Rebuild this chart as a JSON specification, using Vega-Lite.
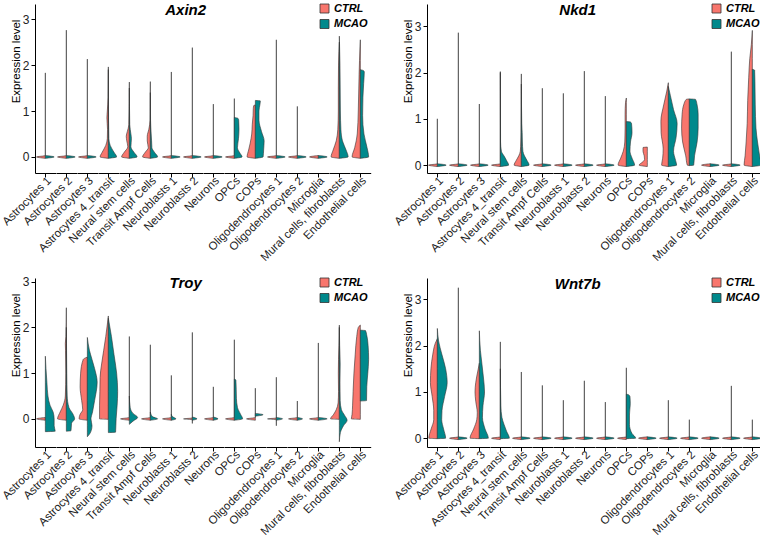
{
"$schema":"https://vega.github.io/schema/vega-lite/v6.json",
"padding":{"left":0,"top":3,"right":0,"bottom":0},
"background":"white",
"data":{"values":[
{"g":"Axin2","c":"Astrocytes 1","k":"CTRL","y":[-0.03,0,0.03,1.83],"w":[0,0.85,0,0]},
{"g":"Axin2","c":"Astrocytes 1","k":"MCAO","y":[-0.03,0,0.03],"w":[0,0.85,0]},
{"g":"Axin2","c":"Astrocytes 2","k":"CTRL","y":[-0.03,0,0.03,2.76],"w":[0,0.85,0,0]},
{"g":"Axin2","c":"Astrocytes 2","k":"MCAO","y":[-0.03,0,0.03],"w":[0,0.85,0]},
{"g":"Axin2","c":"Astrocytes 3","k":"CTRL","y":[-0.03,0,0.03,2.13],"w":[0,0.85,0,0]},
{"g":"Axin2","c":"Astrocytes 3","k":"MCAO","y":[-0.03,0,0.03],"w":[0,0.85,0]},
{"g":"Axin2","c":"Astrocytes 4_transit","k":"CTRL","y":[-0.03,0,0.1,0.25,0.4,0.6,0.85,1.0,1.3,1.96],"w":[0,0.8,0.6,0.25,0.1,0.08,0.14,0.1,0.03,0]},
{"g":"Axin2","c":"Astrocytes 4_transit","k":"MCAO","y":[-0.03,0,0.1,0.25,0.4,0.8,1.9],"w":[0,0.8,0.55,0.18,0.05,0.02,0]},
{"g":"Axin2","c":"Neural stem cells","k":"CTRL","y":[-0.03,0,0.1,0.22,0.35,0.45,0.55,0.7,1.63],"w":[0,0.75,0.5,0.15,0.25,0.3,0.2,0.05,0]},
{"g":"Axin2","c":"Neural stem cells","k":"MCAO","y":[-0.03,0,0.1,0.22,0.4,0.5,0.7,1.5],"w":[0,0.75,0.45,0.15,0.2,0.15,0.04,0]},
{"g":"Axin2","c":"Transit Ampf Cells","k":"CTRL","y":[-0.03,0,0.1,0.2,0.35,0.45,0.6,0.8,1.64],"w":[0,0.75,0.5,0.2,0.3,0.3,0.15,0.03,0]},
{"g":"Axin2","c":"Transit Ampf Cells","k":"MCAO","y":[-0.03,0,0.1,0.2,0.35,0.5,0.8,1.4],"w":[0,0.7,0.4,0.15,0.12,0.08,0.02,0]},
{"g":"Axin2","c":"Neuroblasts 1","k":"CTRL","y":[-0.03,0,0.03,1.85],"w":[0,0.85,0,0]},
{"g":"Axin2","c":"Neuroblasts 1","k":"MCAO","y":[-0.03,0,0.03],"w":[0,0.85,0]},
{"g":"Axin2","c":"Neuroblasts 2","k":"CTRL","y":[-0.03,0,0.03,2.38],"w":[0,0.85,0,0]},
{"g":"Axin2","c":"Neuroblasts 2","k":"MCAO","y":[-0.03,0,0.03],"w":[0,0.85,0]},
{"g":"Axin2","c":"Neurons","k":"CTRL","y":[-0.03,0,0.03,1.15],"w":[0,0.85,0,0]},
{"g":"Axin2","c":"Neurons","k":"MCAO","y":[-0.03,0,0.03],"w":[0,0.85,0]},
{"g":"Axin2","c":"OPCs","k":"CTRL","y":[-0.03,0,0.03,1.27],"w":[0,0.85,0,0]},
{"g":"Axin2","c":"OPCs","k":"MCAO","y":[-0.03,0,0.08,0.2,0.4,0.6,0.8,0.84,0.86],"w":[0,0.75,0.55,0.3,0.4,0.45,0.42,0.35,0]},
{"g":"Axin2","c":"COPs","k":"CTRL","y":[-0.03,0,0.15,0.3,0.5,0.7,0.9,1.05,1.12,1.13],"w":[0,0.8,0.65,0.5,0.35,0.3,0.22,0.2,0.15,0]},
{"g":"Axin2","c":"COPs","k":"MCAO","y":[-0.03,0,0.15,0.35,0.55,0.8,1.0,1.15,1.22,1.23],"w":[0,0.75,0.8,0.85,0.6,0.35,0.35,0.45,0.48,0]},
{"g":"Axin2","c":"Oligodendrocytes 1","k":"CTRL","y":[-0.03,0,0.03,2.55],"w":[0,0.85,0,0]},
{"g":"Axin2","c":"Oligodendrocytes 1","k":"MCAO","y":[-0.03,0,0.03],"w":[0,0.85,0]},
{"g":"Axin2","c":"Oligodendrocytes 2","k":"CTRL","y":[-0.03,0,0.03,1.1],"w":[0,0.85,0,0]},
{"g":"Axin2","c":"Oligodendrocytes 2","k":"MCAO","y":[-0.03,0,0.03],"w":[0,0.85,0]},
{"g":"Axin2","c":"Microglia","k":"CTRL","y":[-0.03,0,0.03],"w":[0,0.85,0]},
{"g":"Axin2","c":"Microglia","k":"MCAO","y":[-0.03,0,0.03],"w":[0,0.85,0]},
{"g":"Axin2","c":"Mural cells, fibroblasts","k":"CTRL","y":[-0.03,0,0.15,0.35,0.6,1.0,1.5,2.0,2.3,2.5],"w":[0,0.8,0.6,0.3,0.15,0.1,0.1,0.08,0.04,0]},
{"g":"Axin2","c":"Mural cells, fibroblasts","k":"MCAO","y":[-0.03,0,0.15,0.35,0.6,1.0,1.5,2.0,2.63],"w":[0,0.85,0.65,0.3,0.15,0.1,0.08,0.06,0]},
{"g":"Axin2","c":"Endothelial cells","k":"CTRL","y":[-0.03,0,0.2,0.5,1.0,1.5,1.8,2.1,2.35,2.55],"w":[0,0.8,0.55,0.3,0.2,0.15,0.12,0.08,0.04,0]},
{"g":"Axin2","c":"Endothelial cells","k":"MCAO","y":[-0.03,0,0.2,0.5,0.9,1.3,1.6,1.85,1.88,1.9],"w":[0,0.8,0.65,0.35,0.22,0.25,0.32,0.38,0.3,0]},

{"g":"Nkd1","c":"Astrocytes 1","k":"CTRL","y":[-0.03,0,0.03,1.0],"w":[0,0.85,0,0]},
{"g":"Nkd1","c":"Astrocytes 1","k":"MCAO","y":[-0.03,0,0.03],"w":[0,0.85,0]},
{"g":"Nkd1","c":"Astrocytes 2","k":"CTRL","y":[-0.03,0,0.03,2.86],"w":[0,0.85,0,0]},
{"g":"Nkd1","c":"Astrocytes 2","k":"MCAO","y":[-0.03,0,0.03],"w":[0,0.85,0]},
{"g":"Nkd1","c":"Astrocytes 3","k":"CTRL","y":[-0.03,0,0.03,1.32],"w":[0,0.85,0,0]},
{"g":"Nkd1","c":"Astrocytes 3","k":"MCAO","y":[-0.03,0,0.03],"w":[0,0.85,0]},
{"g":"Nkd1","c":"Astrocytes 4_transit","k":"CTRL","y":[-0.03,0,0.03,2.02],"w":[0,0.85,0,0]},
{"g":"Nkd1","c":"Astrocytes 4_transit","k":"MCAO","y":[-0.03,0,0.1,0.2,0.3,0.5,2.0],"w":[0,0.8,0.6,0.35,0.1,0.02,0]},
{"g":"Nkd1","c":"Neural stem cells","k":"CTRL","y":[-0.03,0,0.1,0.2,0.3,0.5,0.7,1.97],"w":[0,0.7,0.5,0.25,0.1,0.05,0.03,0]},
{"g":"Nkd1","c":"Neural stem cells","k":"MCAO","y":[-0.03,0,0.1,0.2,0.3,0.5,0.7,0.9,1.75],"w":[0,0.75,0.55,0.3,0.15,0.1,0.08,0.04,0]},
{"g":"Nkd1","c":"Transit Ampf Cells","k":"CTRL","y":[-0.03,0,0.03,1.66],"w":[0,0.85,0,0]},
{"g":"Nkd1","c":"Transit Ampf Cells","k":"MCAO","y":[-0.03,0,0.03],"w":[0,0.85,0]},
{"g":"Nkd1","c":"Neuroblasts 1","k":"CTRL","y":[-0.03,0,0.03,1.55],"w":[0,0.85,0,0]},
{"g":"Nkd1","c":"Neuroblasts 1","k":"MCAO","y":[-0.03,0,0.03],"w":[0,0.85,0]},
{"g":"Nkd1","c":"Neuroblasts 2","k":"CTRL","y":[-0.03,0,0.03,2.03],"w":[0,0.85,0,0]},
{"g":"Nkd1","c":"Neuroblasts 2","k":"MCAO","y":[-0.03,0,0.03],"w":[0,0.85,0]},
{"g":"Nkd1","c":"Neurons","k":"CTRL","y":[-0.03,0,0.03,1.49],"w":[0,0.85,0,0]},
{"g":"Nkd1","c":"Neurons","k":"MCAO","y":[-0.03,0,0.03],"w":[0,0.85,0]},
{"g":"Nkd1","c":"OPCs","k":"CTRL","y":[-0.03,0,0.15,0.3,0.5,0.8,1.1,1.35,1.45],"w":[0,0.8,0.55,0.3,0.15,0.12,0.12,0.08,0]},
{"g":"Nkd1","c":"OPCs","k":"MCAO","y":[-0.03,0,0.15,0.3,0.5,0.7,0.9,0.93,0.94],"w":[0,0.8,0.55,0.35,0.4,0.55,0.5,0.4,0]},
{"g":"Nkd1","c":"COPs","k":"CTRL","y":[-0.03,0,0.06,0.12,0.2,0.3,0.38,0.39],"w":[0,0.8,0.5,0.27,0.3,0.42,0.42,0]},
{"g":"Nkd1","c":"Oligodendrocytes 1","k":"CTRL","y":[-0.03,0,0.15,0.35,0.7,0.95,1.3,1.6,1.78],"w":[0,0.65,0.55,0.5,0.7,0.72,0.45,0.15,0]},
{"g":"Nkd1","c":"Oligodendrocytes 1","k":"MCAO","y":[-0.03,0,0.1,0.3,0.6,0.9,1.2,1.5,1.7],"w":[0,0.8,0.7,0.5,0.75,0.85,0.5,0.2,0]},
{"g":"Nkd1","c":"Oligodendrocytes 2","k":"CTRL","y":[-0.01,0,0.2,0.5,0.8,1.1,1.3,1.42,1.43],"w":[0,0.2,0.35,0.65,0.75,0.7,0.55,0.3,0]},
{"g":"Nkd1","c":"Oligodendrocytes 2","k":"MCAO","y":[-0.01,0,0.2,0.5,0.8,1.1,1.3,1.42,1.43],"w":[0,0.42,0.5,0.75,0.85,0.85,0.75,0.6,0]},
{"g":"Nkd1","c":"Microglia","k":"CTRL","y":[-0.03,0,0.03],"w":[0,0.85,0]},
{"g":"Nkd1","c":"Microglia","k":"MCAO","y":[-0.03,0,0.03],"w":[0,0.85,0]},
{"g":"Nkd1","c":"Mural cells, fibroblasts","k":"CTRL","y":[-0.03,0,0.03,2.45],"w":[0,0.85,0,0]},
{"g":"Nkd1","c":"Mural cells, fibroblasts","k":"MCAO","y":[-0.03,0,0.03],"w":[0,0.85,0]},
{"g":"Nkd1","c":"Endothelial cells","k":"CTRL","y":[-0.03,0,0.2,0.5,0.9,1.4,1.9,2.3,2.6,2.91],"w":[0,0.8,0.7,0.6,0.5,0.45,0.35,0.25,0.1,0]},
{"g":"Nkd1","c":"Endothelial cells","k":"MCAO","y":[-0.03,0,0.2,0.5,0.8,1.3,1.8,2.05,2.07],"w":[0,0.85,0.7,0.5,0.35,0.28,0.25,0.22,0]},

{"g":"Troy","c":"Astrocytes 1","k":"CTRL","y":[-0.03,0,0.03],"w":[0,0.85,0]},
{"g":"Troy","c":"Astrocytes 1","k":"MCAO","y":[-0.28,-0.27,-0.15,0,0.15,0.3,0.5,0.8,1.1,1.37],"w":[0,0.95,0.85,0.85,0.75,0.45,0.25,0.15,0.06,0]},
{"g":"Troy","c":"Astrocytes 2","k":"CTRL","y":[-0.03,0,0.15,0.3,0.5,1.0,1.5,1.65,1.8,2.43],"w":[0,0.85,0.6,0.3,0.1,0.05,0.08,0.1,0.04,0]},
{"g":"Troy","c":"Astrocytes 2","k":"MCAO","y":[-0.27,-0.26,-0.1,0,0.1,0.25,0.5,1.0,2.0],"w":[0,0.45,0.5,0.8,0.65,0.25,0.08,0.04,0]},
{"g":"Troy","c":"Astrocytes 3","k":"CTRL","y":[-0.03,0,0.1,0.2,0.4,0.7,1.0,1.3,1.35],"w":[0,0.8,0.7,0.45,0.55,0.7,0.65,0.4,0]},
{"g":"Troy","c":"Astrocytes 3","k":"MCAO","y":[-0.39,-0.3,-0.15,0,0.15,0.4,0.8,1.1,1.3,1.5,1.78],"w":[0,0.3,0.45,0.35,0.5,0.7,0.95,0.7,0.45,0.2,0]},
{"g":"Troy","c":"Astrocytes 4_transit","k":"CTRL","y":[-0.01,0,0.3,0.6,0.9,1.2,1.5,1.8,2.1,2.25],"w":[0,0.85,0.85,0.82,0.8,0.65,0.45,0.25,0.08,0]},
{"g":"Troy","c":"Astrocytes 4_transit","k":"MCAO","y":[-0.3,-0.29,0,0.3,0.6,1.0,1.4,1.8,2.2],"w":[0,0.7,0.75,0.85,0.9,0.8,0.55,0.3,0]},
{"g":"Troy","c":"Neural stem cells","k":"CTRL","y":[-0.03,0,0.03,1.8],"w":[0,0.85,0,0]},
{"g":"Troy","c":"Neural stem cells","k":"MCAO","y":[-0.12,-0.05,0.03,0.12,0.25,0.5],"w":[0,0.35,0.8,0.35,0.08,0]},
{"g":"Troy","c":"Transit Ampf Cells","k":"CTRL","y":[-0.03,0,0.03,1.62],"w":[0,0.85,0,0]},
{"g":"Troy","c":"Transit Ampf Cells","k":"MCAO","y":[-0.03,0,0.05,0.15],"w":[0,0.7,0.2,0]},
{"g":"Troy","c":"Neuroblasts 1","k":"CTRL","y":[-0.03,0,0.03,0.95],"w":[0,0.85,0,0]},
{"g":"Troy","c":"Neuroblasts 1","k":"MCAO","y":[-0.03,0,0.05,0.1],"w":[0,0.45,0.1,0]},
{"g":"Troy","c":"Neuroblasts 2","k":"CTRL","y":[-0.1,-0.02,0,0.02,1.89],"w":[0,0,0.85,0,0]},
{"g":"Troy","c":"Neuroblasts 2","k":"MCAO","y":[-0.03,0,0.04],"w":[0,0.45,0]},
{"g":"Troy","c":"Neurons","k":"CTRL","y":[-0.03,0,0.03,0.7],"w":[0,0.85,0,0]},
{"g":"Troy","c":"Neurons","k":"MCAO","y":[-0.03,0,0.04],"w":[0,0.45,0]},
{"g":"Troy","c":"OPCs","k":"CTRL","y":[-0.03,0,0.03,1.73],"w":[0,0.85,0,0]},
{"g":"Troy","c":"OPCs","k":"MCAO","y":[-0.03,0,0.1,0.25,0.45,0.65,0.85,0.87],"w":[0,0.8,0.6,0.3,0.2,0.18,0.15,0]},
{"g":"Troy","c":"COPs","k":"CTRL","y":[-0.03,0,0.03,0.67],"w":[0,0.85,0,0]},
{"g":"Troy","c":"COPs","k":"MCAO","y":[0.06,0.09,0.12],"w":[0,0.75,0]},
{"g":"Troy","c":"Oligodendrocytes 1","k":"CTRL","y":[-0.15,-0.02,0,0.02,0.91],"w":[0,0,0.85,0,0]},
{"g":"Troy","c":"Oligodendrocytes 1","k":"MCAO","y":[-0.03,0,0.03],"w":[0,0.6,0]},
{"g":"Troy","c":"Oligodendrocytes 2","k":"CTRL","y":[-0.03,0,0.03,0.39],"w":[0,0.85,0,0]},
{"g":"Troy","c":"Oligodendrocytes 2","k":"MCAO","y":[-0.03,0,0.03],"w":[0,0.5,0]},
{"g":"Troy","c":"Microglia","k":"CTRL","y":[-0.03,0,0.03,1.66],"w":[0,0.85,0,0]},
{"g":"Troy","c":"Microglia","k":"MCAO","y":[-0.03,0,0.03],"w":[0,0.85,0]},
{"g":"Troy","c":"Mural cells, fibroblasts","k":"CTRL","y":[-0.01,0,0.1,0.2,0.35,0.6,1.0,1.3,1.6,2.05],"w":[0,0.85,0.55,0.3,0.12,0.08,0.1,0.08,0.04,0]},
{"g":"Troy","c":"Mural cells, fibroblasts","k":"MCAO","y":[-0.5,-0.3,-0.15,-0.03,0.08,0.2,0.4,0.8,1.2,1.6,2.0],"w":[0,0.1,0.4,0.75,0.5,0.2,0.08,0.06,0.08,0.03,0]},
{"g":"Troy","c":"Endothelial cells","k":"CTRL","y":[-0.01,0,0.1,0.3,0.6,1.0,1.4,1.8,2.0,2.05],"w":[0,0.87,0.8,0.75,0.7,0.62,0.5,0.35,0.2,0]},
{"g":"Troy","c":"Endothelial cells","k":"MCAO","y":[0.39,0.4,0.7,1.0,1.3,1.6,1.85,1.93,1.94],"w":[0,0.6,0.62,0.72,0.8,0.75,0.6,0.5,0]},

{"g":"Wnt7b","c":"Astrocytes 1","k":"CTRL","y":[-0.01,0,0.2,0.4,0.6,0.9,1.2,1.5,1.8,2.05,2.15],"w":[0,0.83,0.6,0.35,0.35,0.5,0.67,0.62,0.45,0.2,0]},
{"g":"Wnt7b","c":"Astrocytes 1","k":"MCAO","y":[-0.01,0,0.2,0.4,0.6,0.9,1.2,1.5,1.8,2.1,2.37],"w":[0,0.8,0.6,0.42,0.45,0.7,0.95,0.8,0.45,0.12,0]},
{"g":"Wnt7b","c":"Astrocytes 2","k":"CTRL","y":[-0.03,0,0.03,3.25],"w":[0,0.85,0,0]},
{"g":"Wnt7b","c":"Astrocytes 2","k":"MCAO","y":[-0.03,0,0.03],"w":[0,0.85,0]},
{"g":"Wnt7b","c":"Astrocytes 3","k":"CTRL","y":[-0.01,0,0.2,0.4,0.55,0.8,1.0,1.2,1.45,1.62],"w":[0,0.9,0.55,0.25,0.2,0.35,0.42,0.35,0.15,0]},
{"g":"Wnt7b","c":"Astrocytes 3","k":"MCAO","y":[-0.01,0,0.2,0.45,0.7,1.0,1.3,1.6,1.9,2.32],"w":[0,0.87,0.55,0.3,0.35,0.5,0.4,0.25,0.1,0]},
{"g":"Wnt7b","c":"Astrocytes 4_transit","k":"CTRL","y":[-0.03,0,0.03,2.08],"w":[0,0.85,0,0]},
{"g":"Wnt7b","c":"Astrocytes 4_transit","k":"MCAO","y":[-0.01,0,0.15,0.3,0.45,0.7,1.5],"w":[0,0.87,0.6,0.35,0.15,0.05,0]},
{"g":"Wnt7b","c":"Neural stem cells","k":"CTRL","y":[-0.03,0,0.03,1.43],"w":[0,0.85,0,0]},
{"g":"Wnt7b","c":"Neural stem cells","k":"MCAO","y":[-0.03,0,0.03],"w":[0,0.85,0]},
{"g":"Wnt7b","c":"Transit Ampf Cells","k":"CTRL","y":[-0.03,0,0.03,1.14],"w":[0,0.85,0,0]},
{"g":"Wnt7b","c":"Transit Ampf Cells","k":"MCAO","y":[-0.03,0,0.03],"w":[0,0.85,0]},
{"g":"Wnt7b","c":"Neuroblasts 1","k":"CTRL","y":[-0.03,0,0.03,0.82],"w":[0,0.85,0,0]},
{"g":"Wnt7b","c":"Neuroblasts 1","k":"MCAO","y":[-0.03,0,0.03],"w":[0,0.85,0]},
{"g":"Wnt7b","c":"Neuroblasts 2","k":"CTRL","y":[-0.03,0,0.03,1.24],"w":[0,0.85,0,0]},
{"g":"Wnt7b","c":"Neuroblasts 2","k":"MCAO","y":[-0.03,0,0.03],"w":[0,0.85,0]},
{"g":"Wnt7b","c":"Neurons","k":"CTRL","y":[-0.03,0,0.03,0.78],"w":[0,0.85,0,0]},
{"g":"Wnt7b","c":"Neurons","k":"MCAO","y":[-0.03,0,0.03],"w":[0,0.85,0]},
{"g":"Wnt7b","c":"OPCs","k":"CTRL","y":[-0.03,0,0.03,1.52],"w":[0,0.85,0,0]},
{"g":"Wnt7b","c":"OPCs","k":"MCAO","y":[-0.01,0,0.1,0.3,0.5,0.75,0.9,0.94,0.95],"w":[0,0.9,0.55,0.3,0.3,0.38,0.35,0.2,0]},
{"g":"Wnt7b","c":"COPs","k":"CTRL","y":[-0.03,0,0.03],"w":[0,0.85,0]},
{"g":"Wnt7b","c":"COPs","k":"MCAO","y":[-0.03,0,0.03],"w":[0,0.85,0]},
{"g":"Wnt7b","c":"Oligodendrocytes 1","k":"CTRL","y":[-0.03,0,0.03,0.82],"w":[0,0.85,0,0]},
{"g":"Wnt7b","c":"Oligodendrocytes 1","k":"MCAO","y":[-0.03,0,0.03],"w":[0,0.85,0]},
{"g":"Wnt7b","c":"Oligodendrocytes 2","k":"CTRL","y":[-0.03,0,0.03,0.4],"w":[0,0.85,0,0]},
{"g":"Wnt7b","c":"Oligodendrocytes 2","k":"MCAO","y":[-0.03,0,0.03],"w":[0,0.85,0]},
{"g":"Wnt7b","c":"Microglia","k":"CTRL","y":[-0.03,0,0.03],"w":[0,0.85,0]},
{"g":"Wnt7b","c":"Microglia","k":"MCAO","y":[-0.03,0,0.03],"w":[0,0.85,0]},
{"g":"Wnt7b","c":"Mural cells, fibroblasts","k":"CTRL","y":[-0.03,0,0.03,1.13],"w":[0,0.85,0,0]},
{"g":"Wnt7b","c":"Mural cells, fibroblasts","k":"MCAO","y":[-0.03,0,0.03],"w":[0,0.85,0]},
{"g":"Wnt7b","c":"Endothelial cells","k":"CTRL","y":[-0.03,0,0.03,0.4],"w":[0,0.85,0,0]},
{"g":"Wnt7b","c":"Endothelial cells","k":"MCAO","y":[-0.03,0,0.03],"w":[0,0.85,0]}
]},
"concat":[
{"transform":[{"filter":"datum.g === 'Axin2'"},{"flatten":["y","w"]}],
 "title":{"text":"Axin2","offset":-15,"frame":"bounds"},
 "facet":{"column":{"field":"c","type":"nominal","title":null,"sort":["Astrocytes 1","Astrocytes 2","Astrocytes 3","Astrocytes 4_transit","Neural stem cells","Transit Ampf Cells","Neuroblasts 1","Neuroblasts 2","Neurons","OPCs","COPs","Oligodendrocytes 1","Oligodendrocytes 2","Microglia","Mural cells, fibroblasts","Endothelial cells"]}},
 "spacing":0,"bounds":"flush",
 "resolve":{"scale":{"x":"independent"}},
 "spec":{"width":20.7,"height":169,
  "layer":[
   {"transform":[{"filter":"datum.k === 'CTRL'"}],
    "mark":{"type":"area","orient":"horizontal","interpolate":"monotone","stroke":"#333","strokeWidth":0.6,"opacity":1},
    "encoding":{
     "y":{"field":"y","type":"quantitative","scale":{"domain":[-0.35,3.33],"nice":false,"zero":false},"axis":{"title":"Expression level","values":[0,1,2,3]}},
     "x":{"field":"w","type":"quantitative","stack":null,"scale":{"domain":[-1,1],"reverse":true},"axis":null},
     "x2":{"datum":0},
     "color":{"field":"k","type":"nominal","scale":{"domain":["CTRL","MCAO"],"range":["#F8766D","#00898C"]},"legend":{"orient":"none","legendX":284,"legendY":-1,"title":null}}}},
   {"transform":[{"filter":"datum.k === 'MCAO'"}],
    "mark":{"type":"area","orient":"horizontal","interpolate":"monotone","stroke":"#333","strokeWidth":0.6,"opacity":1},
    "encoding":{
     "y":{"field":"y","type":"quantitative","scale":{"domain":[-0.35,3.33],"nice":false,"zero":false},"axis":{"title":"Expression level","values":[0,1,2,3]}},
     "x":{"field":"w","type":"quantitative","stack":null,"scale":{"domain":[-1,1]},"axis":{"values":[0],"labels":false,"title":null,"grid":false}},
     "x2":{"datum":0},
     "color":{"field":"k","type":"nominal","scale":{"domain":["CTRL","MCAO"],"range":["#F8766D","#00898C"]},"legend":{"orient":"none","legendX":284,"legendY":-1,"title":null}}}}
  ],
  "resolve":{"scale":{"x":"independent"}}}},
{"transform":[{"filter":"datum.g === 'Nkd1'"},{"flatten":["y","w"]}],
 "title":{"text":"Nkd1","offset":-15,"frame":"bounds"},
 "facet":{"column":{"field":"c","type":"nominal","title":null,"sort":["Astrocytes 1","Astrocytes 2","Astrocytes 3","Astrocytes 4_transit","Neural stem cells","Transit Ampf Cells","Neuroblasts 1","Neuroblasts 2","Neurons","OPCs","COPs","Oligodendrocytes 1","Oligodendrocytes 2","Microglia","Mural cells, fibroblasts","Endothelial cells"]}},
 "spacing":0,"bounds":"flush",
 "resolve":{"scale":{"x":"independent"}},
 "spec":{"width":20.7,"height":169,
  "layer":[
   {"transform":[{"filter":"datum.k === 'CTRL'"}],
    "mark":{"type":"area","orient":"horizontal","interpolate":"monotone","stroke":"#333","strokeWidth":0.6,"opacity":1},
    "encoding":{
     "y":{"field":"y","type":"quantitative","scale":{"domain":[-0.17,3.48],"nice":false,"zero":false},"axis":{"title":"Expression level","values":[0,1,2,3]}},
     "x":{"field":"w","type":"quantitative","stack":null,"scale":{"domain":[-1,1],"reverse":true},"axis":null},
     "x2":{"datum":0},
     "color":{"field":"k","type":"nominal","scale":{"domain":["CTRL","MCAO"],"range":["#F8766D","#00898C"]},"legend":{"orient":"none","legendX":284,"legendY":-1,"title":null}}}},
   {"transform":[{"filter":"datum.k === 'MCAO'"}],
    "mark":{"type":"area","orient":"horizontal","interpolate":"monotone","stroke":"#333","strokeWidth":0.6,"opacity":1},
    "encoding":{
     "y":{"field":"y","type":"quantitative","scale":{"domain":[-0.17,3.48],"nice":false,"zero":false},"axis":{"title":"Expression level","values":[0,1,2,3]}},
     "x":{"field":"w","type":"quantitative","stack":null,"scale":{"domain":[-1,1]},"axis":{"values":[0],"labels":false,"title":null,"grid":false}},
     "x2":{"datum":0},
     "color":{"field":"k","type":"nominal","scale":{"domain":["CTRL","MCAO"],"range":["#F8766D","#00898C"]},"legend":{"orient":"none","legendX":284,"legendY":-1,"title":null}}}}
  ],
  "resolve":{"scale":{"x":"independent"}}}},
{"transform":[{"filter":"datum.g === 'Troy'"},{"flatten":["y","w"]}],
 "title":{"text":"Troy","offset":-15,"frame":"bounds"},
 "facet":{"column":{"field":"c","type":"nominal","title":null,"sort":["Astrocytes 1","Astrocytes 2","Astrocytes 3","Astrocytes 4_transit","Neural stem cells","Transit Ampf Cells","Neuroblasts 1","Neuroblasts 2","Neurons","OPCs","COPs","Oligodendrocytes 1","Oligodendrocytes 2","Microglia","Mural cells, fibroblasts","Endothelial cells"]}},
 "spacing":0,"bounds":"flush",
 "resolve":{"scale":{"x":"independent"}},
 "spec":{"width":20.7,"height":169,
  "layer":[
   {"transform":[{"filter":"datum.k === 'CTRL'"}],
    "mark":{"type":"area","orient":"horizontal","interpolate":"monotone","stroke":"#333","strokeWidth":0.6,"opacity":1},
    "encoding":{
     "y":{"field":"y","type":"quantitative","scale":{"domain":[-0.615,3.08],"nice":false,"zero":false},"axis":{"title":"Expression level","values":[0,1,2,3]}},
     "x":{"field":"w","type":"quantitative","stack":null,"scale":{"domain":[-1,1],"reverse":true},"axis":null},
     "x2":{"datum":0},
     "color":{"field":"k","type":"nominal","scale":{"domain":["CTRL","MCAO"],"range":["#F8766D","#00898C"]},"legend":{"orient":"none","legendX":284,"legendY":-1,"title":null}}}},
   {"transform":[{"filter":"datum.k === 'MCAO'"}],
    "mark":{"type":"area","orient":"horizontal","interpolate":"monotone","stroke":"#333","strokeWidth":0.6,"opacity":1},
    "encoding":{
     "y":{"field":"y","type":"quantitative","scale":{"domain":[-0.615,3.08],"nice":false,"zero":false},"axis":{"title":"Expression level","values":[0,1,2,3]}},
     "x":{"field":"w","type":"quantitative","stack":null,"scale":{"domain":[-1,1]},"axis":{"values":[0],"labels":false,"title":null,"grid":false}},
     "x2":{"datum":0},
     "color":{"field":"k","type":"nominal","scale":{"domain":["CTRL","MCAO"],"range":["#F8766D","#00898C"]},"legend":{"orient":"none","legendX":284,"legendY":-1,"title":null}}}}
  ],
  "resolve":{"scale":{"x":"independent"}}}},
{"transform":[{"filter":"datum.g === 'Wnt7b'"},{"flatten":["y","w"]}],
 "title":{"text":"Wnt7b","offset":-15,"frame":"bounds"},
 "facet":{"column":{"field":"c","type":"nominal","title":null,"sort":["Astrocytes 1","Astrocytes 2","Astrocytes 3","Astrocytes 4_transit","Neural stem cells","Transit Ampf Cells","Neuroblasts 1","Neuroblasts 2","Neurons","OPCs","COPs","Oligodendrocytes 1","Oligodendrocytes 2","Microglia","Mural cells, fibroblasts","Endothelial cells"]}},
 "spacing":0,"bounds":"flush",
 "resolve":{"scale":{"x":"independent"}},
 "spec":{"width":20.7,"height":169,
  "layer":[
   {"transform":[{"filter":"datum.k === 'CTRL'"}],
    "mark":{"type":"area","orient":"horizontal","interpolate":"monotone","stroke":"#333","strokeWidth":0.6,"opacity":1},
    "encoding":{
     "y":{"field":"y","type":"quantitative","scale":{"domain":[-0.19,3.46],"nice":false,"zero":false},"axis":{"title":"Expression level","values":[0,1,2,3]}},
     "x":{"field":"w","type":"quantitative","stack":null,"scale":{"domain":[-1,1],"reverse":true},"axis":null},
     "x2":{"datum":0},
     "color":{"field":"k","type":"nominal","scale":{"domain":["CTRL","MCAO"],"range":["#F8766D","#00898C"]},"legend":{"orient":"none","legendX":284,"legendY":-1,"title":null}}}},
   {"transform":[{"filter":"datum.k === 'MCAO'"}],
    "mark":{"type":"area","orient":"horizontal","interpolate":"monotone","stroke":"#333","strokeWidth":0.6,"opacity":1},
    "encoding":{
     "y":{"field":"y","type":"quantitative","scale":{"domain":[-0.19,3.46],"nice":false,"zero":false},"axis":{"title":"Expression level","values":[0,1,2,3]}},
     "x":{"field":"w","type":"quantitative","stack":null,"scale":{"domain":[-1,1]},"axis":{"values":[0],"labels":false,"title":null,"grid":false}},
     "x2":{"datum":0},
     "color":{"field":"k","type":"nominal","scale":{"domain":["CTRL","MCAO"],"range":["#F8766D","#00898C"]},"legend":{"orient":"none","legendX":284,"legendY":-1,"title":null}}}}
  ],
  "resolve":{"scale":{"x":"independent"}}}}
],
"columns":2,
"spacing":{"row":11,"column":21},
"resolve":{"scale":{"color":"independent","y":"independent","x":"independent"},"legend":{"color":"independent"}},
"config":{
 "font":"Liberation Sans",
 "view":{"stroke":null},
 "title":{"font":"Liberation Sans","fontSize":15,"fontWeight":"bold","fontStyle":"italic","color":"black","anchor":"middle"},
 "axis":{"domainColor":"black","tickColor":"black","domainWidth":1,"tickWidth":1,"tickSize":4,"grid":false,"labelFont":"Liberation Sans","titleFont":"Liberation Sans","labelFontSize":12,"labelColor":"#222","titleFontSize":11.5,"titleFontWeight":"normal","titleColor":"black","labelPadding":2,"titlePadding":1},
 "axisY":{"titleY":57},
 "header":{"labelOrient":"bottom","labelAngle":-45,"labelAlign":"right","labelBaseline":"top","labelFont":"Liberation Sans","labelFontSize":11.5,"labelColor":"#222","labelPadding":2},
 "legend":{"labelFont":"Liberation Sans","labelFontSize":11,"labelFontWeight":"bold","labelFontStyle":"italic","labelColor":"black","symbolType":"square","symbolSize":81,"symbolStrokeColor":"#333","symbolStrokeWidth":0.8,"symbolOpacity":1,"padding":0,"rowPadding":2.5,"labelOffset":4}
}
}
